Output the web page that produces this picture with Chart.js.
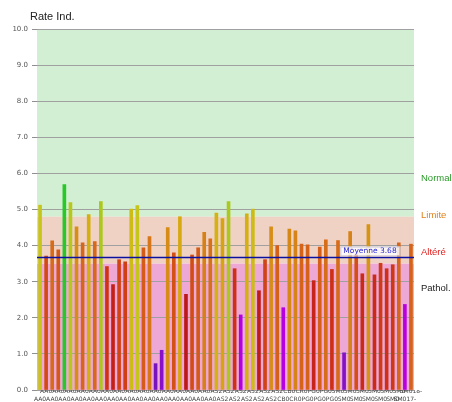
<!DOCTYPE html>
<html>
<head>
<meta charset="utf-8">
<script src="https://cdn.jsdelivr.net/npm/chart.js@4.4.1/dist/chart.umd.min.js"></script>
<style>
  body { margin: 0; background: #fff; }
  #wrap { width: 452px; height: 402px; }
</style>
</head>
<body>
<div id="wrap"><canvas id="rateChart" width="452" height="402"></canvas></div>
<script>
// sample groups shown under the bars
let categories = [
  "AA0", "AA0", "AA0", "AA0", "AA0", "AA0", "AA0", "AA0", "AA0", "AA0",
  "AA0", "AA0", "AA0", "AA0", "AA0", "AA0", "AA0", "AA0", "AA0", "AA0",
  "AA0", "AA0", "AA0", "AA0", "AA0", "AA0", "AA0", "AA0", "AA0",
  "AS2", "AS2", "AS2", "AS2", "AS2", "AS2", "AS2", "AS2", "AS2", "AS2", "AS2",
  "CB0", "CB0", "CR0", "CR0",
  "PG0", "PG0", "PG0", "PG0", "PG0",
  "SM0", "SM0", "SM0", "SM0", "SM0", "SM0", "SM0", "SM0", "SM0", "SM0", "SM0",
  "SM017-", "SM018-",
];

let rates = [
  5.12, 3.71, 4.13, 3.88, 5.69, 5.19, 4.52, 4.08, 4.86, 4.11,
  5.22, 3.42, 2.92, 3.61, 3.55, 5.01, 5.11, 3.94, 4.25, 0.73,
  1.10, 4.50, 3.80, 4.80, 2.65, 3.74, 3.94, 4.37, 4.19, 4.90,
  4.75, 5.22, 3.36, 2.08, 4.88, 5.01, 2.75, 3.61, 4.52, 4.00,
  2.28, 4.46, 4.41, 4.04, 4.02, 3.03, 3.96, 4.16, 3.34, 4.14,
  1.03, 4.39, 3.77, 3.22, 4.58, 3.19, 3.51, 3.36, 3.47, 4.08,
  2.37, 4.04,
];

let meanValue = 3.68;
let zoneLimits = [3.5, 4.8];
let zoneNames = ["Normal", "Limite", "Altéré", "Pathol."];
let yTicks = [0, 1, 2, 3, 4, 5, 6, 7, 8, 9, 10];

// bar colour runs from purple (low) through red/orange to green (high)
let colorStops = [
  [0.7, [118, 20, 188]],
  [1.1, [135, 16, 200]],
  [2.0, [178, 0, 226]],
  [2.4, [184, 0, 222]],
  [2.6, [184, 24, 24]],
  [3.0, [198, 34, 24]],
  [3.4, [206, 50, 20]],
  [3.7, [210, 74, 20]],
  [4.1, [214, 104, 26]],
  [4.5, [214, 140, 22]],
  [4.85, [214, 174, 16]],
  [5.15, [196, 200, 26]],
  [5.6, [40, 200, 40]],
];

let colorFor = (v) => {
  if (v <= colorStops[0][0]) return "rgb(" + colorStops[0][1].join(",") + ")";
  for (let i = 1; i < colorStops.length; i++) {
    if (v <= colorStops[i][0]) {
      let a = colorStops[i - 1], b = colorStops[i];
      let t = (v - a[0]) / (b[0] - a[0]);
      let c = a[1].map((x, k) => Math.round(x + (b[1][k] - x) * t));
      return "rgb(" + c.join(",") + ")";
    }
  }
  return "rgb(" + colorStops[colorStops.length - 1][1].join(",") + ")";
};

let bandsPlugin = {
  id: "bands",
  beforeDraw(chart) {
    let { ctx, chartArea } = chart;
    let y = chart.scales.y;
    let l = chartArea.left, w = chartArea.right - chartArea.left;
    let top = y.getPixelForValue(10), hi = y.getPixelForValue(zoneLimits[1]);
    let lo = y.getPixelForValue(zoneLimits[0]), zero = y.getPixelForValue(0);
    ctx.save();
    ctx.fillStyle = "rgb(211,239,211)";
    ctx.fillRect(l, top, w, hi - top);
    ctx.fillStyle = "rgb(240,210,196)";
    ctx.fillRect(l, hi, w, lo - hi);
    ctx.fillStyle = "rgb(237,168,214)";
    ctx.fillRect(l, lo, w, zero - lo);
    ctx.restore();
  },
  afterDatasetsDraw(chart) {
    let { ctx, chartArea } = chart;
    let y = chart.scales.y;
    let my = Math.round(y.getPixelForValue(meanValue)) + 0.5;
    ctx.save();
    ctx.strokeStyle = "#0a10a0";
    ctx.lineWidth = 1.5;
    ctx.beginPath();
    ctx.moveTo(chartArea.left, my);
    ctx.lineTo(chartArea.right, my);
    ctx.stroke();

    let text = "Moyenne " + meanValue.toFixed(2);
    ctx.font = "7.5px 'DejaVu Sans'";
    let tw = ctx.measureText(text).width;
    let cx = chartArea.right - 44;
    ctx.fillStyle = "rgba(255,255,255,0.85)";
    ctx.fillRect(cx - tw / 2 - 3, my - 11, tw + 6, 9);
    ctx.strokeStyle = "#c8c8d8";
    ctx.lineWidth = 1;
    ctx.strokeRect(cx - tw / 2 - 3 + 0.5, my - 11 + 0.5, tw + 6, 9);
    ctx.fillStyle = "#2a2ad0";
    ctx.textAlign = "center";
    ctx.textBaseline = "middle";
    ctx.fillText(text, cx, my - 6.5);
    ctx.restore();
  },
  afterDraw(chart) {
    let { ctx, chartArea } = chart;
    ctx.save();
    ctx.font = "11px 'Liberation Sans'";
    ctx.fillStyle = "#222";
    ctx.textBaseline = "middle";
    ctx.fillText("Rate Ind.", 30, 17);

    let zoneColors = ["#2a9a2a", "#e0801e", "#e02020", "#1a1a1a"];
    let zoneY = [178, 215, 252, 288];
    ctx.font = "9.5px 'Liberation Sans'";
    zoneNames.forEach((name, i) => {
      ctx.fillStyle = zoneColors[i];
      ctx.fillText(name, chartArea.right + 7, zoneY[i]);
    });
    ctx.restore();
  },
};

new Chart(document.getElementById("rateChart"), {
  type: "bar",
  data: {
    labels: categories,
    datasets: [
      {
        data: rates,
        backgroundColor: rates.map(colorFor),
        barThickness: 3,
        borderWidth: 0,
      },
    ],
  },
  options: {
    responsive: false,
    animation: false,
    layout: { padding: { top: 29, right: 38, left: 0, bottom: 0 } },
    plugins: {
      legend: { display: false },
      tooltip: { enabled: false },
    },
    scales: {
      x: {
        grid: { display: false },
        border: { display: false },
        afterFit(scale) { scale.height = 12; },
        ticks: {
          autoSkip: false,
          maxRotation: 0,
          minRotation: 0,
          padding: -10,
          color: "#444",
          font: { family: "'DejaVu Sans'", size: 6, lineHeight: 1.3 },
          callback(v, i) {
            let lab = categories[i];
            return i % 2 ? [lab, ""] : ["", lab];
          },
        },
      },
      y: {
        min: 0,
        max: 10,
        afterFit(scale) { scale.width = 37; },
        afterBuildTicks(scale) { scale.ticks = yTicks.map((v) => ({ value: v })); },
        border: { display: false },
        grid: { color: "#a0a0a0", tickLength: 5, tickColor: "#909090" },
        ticks: {
          padding: 4,
          color: "#555",
          font: { family: "'DejaVu Sans'", size: 7 },
          callback: (v) => v.toFixed(1),
        },
      },
    },
  },
  plugins: [bandsPlugin],
});
</script>
</body>
</html>
